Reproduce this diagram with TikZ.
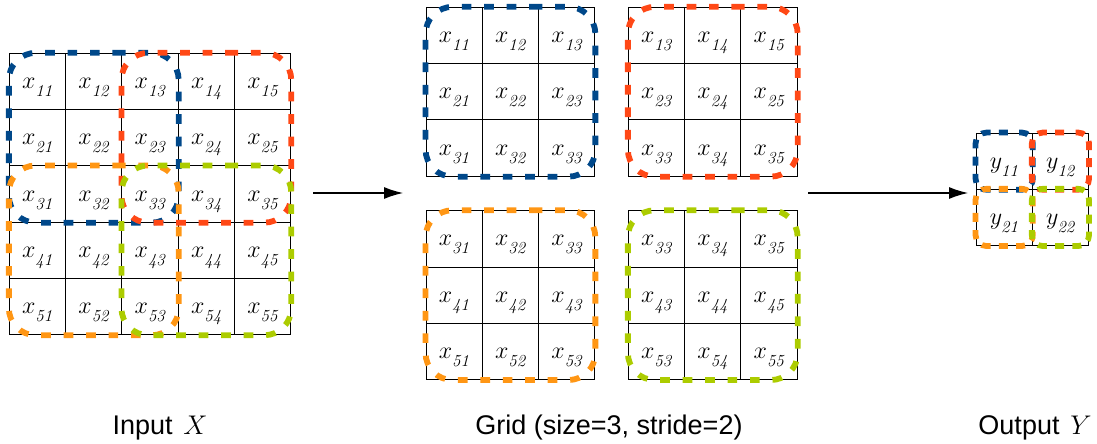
\documentclass[tikz,border=0pt]{standalone}
\usepackage{fix-cm}
\usepackage{fontspec}
\setsansfont{Liberation Sans}
\usetikzlibrary{arrows.meta,calc}
\definecolor{wblue}{RGB}{0,72,138}
\definecolor{wred}{RGB}{255,72,22}
\definecolor{worange}{RGB}{255,150,20}
\definecolor{wgreen}{RGB}{172,204,0}
\newcommand\mygrid[7]{%
  \foreach \r in {1,...,#6}{\foreach \c in {1,...,#6}{%
    \pgfmathtruncatemacro\rr{#4+\r-1}\pgfmathtruncatemacro\cc{#5+\c-1}%
    \node[cell] (#1-\r-\c) at ({#2+(\c-0.5)*56.3},{#3+(\r-0.5)*56.3})
      {$#7_{\lower4.5pt\hbox{$\scriptstyle\mathit{\rr\cc}$}}$};}}}
% rounded dashed window from cell A (top-left) to cell B (bottom-right)
\newcommand\winbox[4]{%
  \coordinate (#1) at ($(#2.north west)!0.5!(#3.south east)$);
  \draw[#4] (#1 |- #2.north west) -- (#2.north west -| #3.south east)
    -- (#3.south east) -- (#2.north west |- #3.south east)
    -- (#2.north west) -- cycle;}
\begin{document}
\begin{tikzpicture}[x=1pt,y=-1pt,
  cell/.style={draw=black,line width=0.9pt,minimum size=56.3pt,inner sep=0pt,
    text height=14pt,text depth=0pt,font=\fontsize{24}{28}\selectfont},
  win/.style={line width=5.8pt,rounded corners=27pt,
    dash pattern=on 9.7pt off 12.77pt,dash phase=4.83pt},
  owin/.style={line width=5.8pt,rounded corners=11pt,
    dash pattern=on 9pt off 8.19pt,dash phase=13.11pt},
  arr/.style={line width=1.2pt,-{Latex[length=19pt,width=12pt]}},
  lbl/.style={anchor=base,inner sep=0pt,font=\sffamily\fontsize{27}{32}\selectfont}]
\useasboundingbox (0,0) rectangle (1097,444);
% grids
\mygrid{in}{9.3}{53.3}{1}{1}{5}{x}
\mygrid{ga}{426}{7.3}{1}{1}{3}{x}
\mygrid{gb}{628.3}{7.3}{1}{3}{3}{x}
\mygrid{gc}{426}{210.7}{3}{1}{3}{x}
\mygrid{gd}{628.3}{210.7}{3}{3}{3}{x}
\mygrid{out}{976}{133}{1}{1}{2}{y}
% windows on input
\winbox{wi1}{in-1-1}{in-3-3}{win,wblue}
\winbox{wi2}{in-1-3}{in-3-5}{win,wred}
\winbox{wi3}{in-3-1}{in-5-3}{win,worange}
\winbox{wi4}{in-3-3}{in-5-5}{win,wgreen}
% windows on extracted grids
\winbox{wg1}{ga-1-1}{ga-3-3}{win,wblue}
\winbox{wg2}{gb-1-1}{gb-3-3}{win,wred}
\winbox{wg3}{gc-1-1}{gc-3-3}{win,worange}
\winbox{wg4}{gd-1-1}{gd-3-3}{win,wgreen}
% output windows
\winbox{wo1}{out-1-1}{out-1-1}{owin,wblue}
\winbox{wo2}{out-1-2}{out-1-2}{owin,wred}
\winbox{wo3}{out-2-1}{out-2-1}{owin,worange}
\winbox{wo4}{out-2-2}{out-2-2}{owin,wgreen}
% arrows
\coordinate (a1s) at (313,193);
\coordinate (a1e) at (403,193);
\coordinate (a2s) at (808,193);
\coordinate (a2e) at (968,193);
\draw[arr] (a1s) -- (a1e);
\draw[arr] (a2s) -- (a2e);
% labels
\node[lbl] (lin) at (160,434) {Input\hspace{0.4em}$X$};
\node[lbl] (lgrid) at (609,434) {Grid (size=3, stride=2)};
\node[lbl] (lout) at (1035,434) {Output\hspace{0.4em}$Y$};
\end{tikzpicture}
\end{document}
